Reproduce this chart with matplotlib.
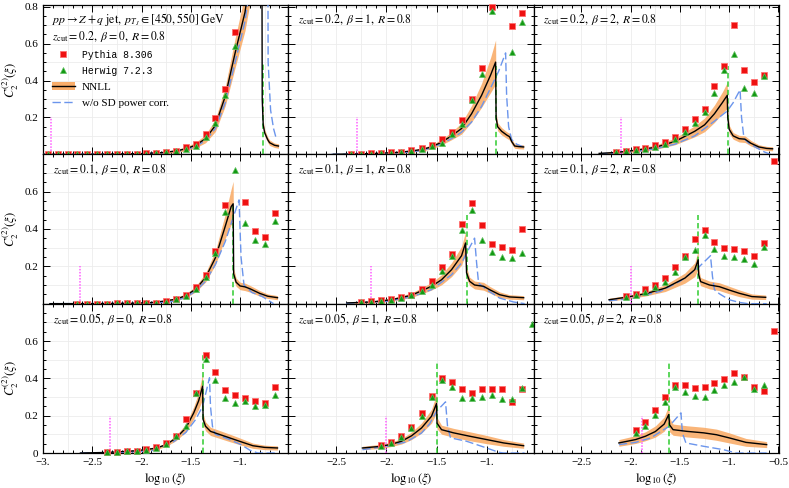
import numpy as np
import matplotlib
matplotlib.use('Agg')
import matplotlib.pyplot as plt
from matplotlib.lines import Line2D
from matplotlib.patches import Patch

# rows: z_cut, columns: beta
zcut = ['0.2', '0.1', '0.05']
beta = ['0', '1', '2']

# ---- Pythia 8.306 (red squares), one list per panel, row by row ----
pythia_x = [
    [-2.95, -2.85, -2.75, -2.65, -2.55, -2.45, -2.35, -2.25, -2.15, -2.05, -1.95, -1.85, -1.75, -1.65, -1.55, -1.45, -1.35, -1.25, -1.15, -1.05],
    [-2.35, -2.25, -2.15, -2.05, -1.95, -1.85, -1.75, -1.65, -1.55, -1.45, -1.35, -1.25, -1.15, -1.05, -0.95, -0.75, -0.65],
    [-2.15, -2.05, -1.95, -1.85, -1.75, -1.65, -1.55, -1.45, -1.35, -1.25, -1.15, -1.05, -0.95, -0.85, -0.75, -0.65],
    [-2.65, -2.55, -2.45, -2.35, -2.25, -2.15, -2.05, -1.95, -1.85, -1.75, -1.65, -1.55, -1.45, -1.35, -1.25, -1.15, -0.95, -0.85, -0.75, -0.65],
    [-2.25, -2.15, -2.05, -1.95, -1.85, -1.75, -1.65, -1.55, -1.45, -1.35, -1.25, -1.15, -1.05, -0.95, -0.85, -0.75, -0.65],
    [-2.05, -1.95, -1.85, -1.75, -1.65, -1.55, -1.45, -1.35, -1.25, -1.15, -1.05, -0.95, -0.85, -0.75, -0.65, -0.55],
    [-2.35, -2.25, -2.15, -2.05, -1.95, -1.85, -1.75, -1.65, -1.55, -1.45, -1.35, -1.25, -1.15, -1.05, -0.95, -0.85, -0.75, -0.65],
    [-2.05, -1.95, -1.85, -1.75, -1.65, -1.55, -1.45, -1.35, -1.25, -1.15, -1.05, -0.95, -0.85, -0.75, -0.65],
    [-1.95, -1.85, -1.75, -1.65, -1.55, -1.45, -1.35, -1.25, -1.15, -1.05, -0.95, -0.85, -0.75, -0.65, -0.55],
]
pythia_y = [
    [0.0, 0.0, 0.0, 0.0, 0.0, 0.0, 0.0, 0.001, 0.001, 0.003, 0.005, 0.007, 0.011, 0.018, 0.038, 0.058, 0.108, 0.195, 0.355, 0.665],
    [0.002, 0.003, 0.005, 0.008, 0.011, 0.015, 0.023, 0.036, 0.05, 0.081, 0.123, 0.186, 0.3, 0.47, 0.8, 0.694, 0.769],
    [0.013, 0.02, 0.027, 0.036, 0.049, 0.068, 0.095, 0.135, 0.193, 0.247, 0.373, 0.481, 0.703, 0.456, 0.391, 0.43],
    [0.0, 0.0, 0.0, 0.0, 0.001, 0.001, 0.002, 0.004, 0.005, 0.013, 0.027, 0.048, 0.087, 0.155, 0.28, 0.529, 0.543, 0.39, 0.355, 0.483],
    [0.009, 0.012, 0.018, 0.025, 0.034, 0.048, 0.078, 0.119, 0.194, 0.267, 0.426, 0.538, 0.42, 0.321, 0.301, 0.289, 0.398],
    [0.04, 0.051, 0.076, 0.1, 0.137, 0.196, 0.253, 0.346, 0.396, 0.328, 0.298, 0.291, 0.284, 0.257, 0.323, 0.766],
    [0.005, 0.007, 0.011, 0.012, 0.019, 0.03, 0.054, 0.093, 0.183, 0.322, 0.523, 0.435, 0.34, 0.313, 0.292, 0.281, 0.269, 0.355],
    [0.041, 0.057, 0.089, 0.138, 0.215, 0.308, 0.4, 0.382, 0.341, 0.323, 0.341, 0.341, 0.344, 0.274, 0.341],
    [0.125, 0.168, 0.228, 0.3, 0.362, 0.366, 0.346, 0.351, 0.373, 0.398, 0.43, 0.407, 0.355, 0.33, 0.654],
]

# ---- Herwig 7.2.3 (green triangles) ----
herwig_x = [
    [-2.95, -2.85, -2.75, -2.65, -2.55, -2.45, -2.35, -2.25, -2.15, -2.05, -1.95, -1.85, -1.75, -1.65, -1.55, -1.45, -1.35, -1.25, -1.15, -1.05],
    [-2.35, -2.25, -2.15, -2.05, -1.95, -1.85, -1.75, -1.65, -1.55, -1.45, -1.35, -1.25, -1.15, -1.05, -0.95, -0.75, -0.65],
    [-2.15, -2.05, -1.95, -1.85, -1.75, -1.65, -1.55, -1.45, -1.35, -1.25, -1.15, -1.05, -0.95, -0.85, -0.75, -0.65],
    [-2.65, -2.55, -2.45, -2.35, -2.25, -2.15, -2.05, -1.95, -1.85, -1.75, -1.65, -1.55, -1.45, -1.35, -1.25, -1.15, -1.05, -0.95, -0.85, -0.75, -0.65],
    [-2.25, -2.15, -2.05, -1.95, -1.85, -1.75, -1.65, -1.55, -1.45, -1.35, -1.25, -1.15, -1.05, -0.95, -0.85, -0.75, -0.65],
    [-2.05, -1.95, -1.85, -1.75, -1.65, -1.55, -1.45, -1.35, -1.25, -1.15, -1.05, -0.95, -0.85, -0.75, -0.65],
    [-2.35, -2.25, -2.15, -2.05, -1.95, -1.85, -1.75, -1.65, -1.55, -1.45, -1.35, -1.25, -1.15, -1.05, -0.95, -0.85, -0.75, -0.65],
    [-2.05, -1.95, -1.85, -1.75, -1.65, -1.55, -1.45, -1.35, -1.25, -1.15, -1.05, -0.95, -0.85, -0.75, -0.65, -0.55],
    [-1.95, -1.85, -1.75, -1.65, -1.55, -1.45, -1.35, -1.25, -1.15, -1.05, -0.95, -0.85, -0.75, -0.65],
]
herwig_y = [
    [0.0, 0.0, 0.0, 0.0, 0.0, 0.0, 0.0, 0.001, 0.001, 0.003, 0.004, 0.006, 0.01, 0.016, 0.03, 0.047, 0.093, 0.17, 0.32, 0.585],
    [0.001, 0.002, 0.004, 0.006, 0.008, 0.01, 0.018, 0.03, 0.045, 0.063, 0.108, 0.167, 0.294, 0.438, 0.775, 0.553, 0.72],
    [0.01, 0.017, 0.024, 0.031, 0.042, 0.058, 0.085, 0.121, 0.171, 0.232, 0.333, 0.456, 0.546, 0.359, 0.333, 0.427],
    [0.0, 0.0, 0.0, 0.0, 0.001, 0.001, 0.002, 0.003, 0.004, 0.011, 0.023, 0.043, 0.078, 0.143, 0.271, 0.493, 0.718, 0.431, 0.342, 0.317, 0.444],
    [0.007, 0.009, 0.012, 0.02, 0.03, 0.045, 0.066, 0.102, 0.176, 0.257, 0.396, 0.503, 0.339, 0.277, 0.25, 0.244, 0.271],
    [0.037, 0.046, 0.064, 0.091, 0.118, 0.172, 0.249, 0.289, 0.369, 0.294, 0.258, 0.249, 0.239, 0.214, 0.306],
    [0.003, 0.005, 0.009, 0.012, 0.017, 0.028, 0.049, 0.093, 0.143, 0.322, 0.505, 0.39, 0.292, 0.269, 0.281, 0.251, 0.256, 0.313],
    [0.037, 0.054, 0.086, 0.134, 0.2, 0.301, 0.391, 0.355, 0.296, 0.296, 0.301, 0.31, 0.29, 0.287, 0.35, 0.69],
    [0.107, 0.147, 0.201, 0.275, 0.355, 0.326, 0.305, 0.301, 0.337, 0.362, 0.382, 0.409, 0.344, 0.362],
]

# ---- NNLL central curve and band half-width ----
nnll_x = [
    [-3.0, -2.6, -2.2, -2.0, -1.8, -1.65, -1.55, -1.45, -1.35, -1.25, -1.15, -1.05, -0.95, -0.9, -0.85, -0.78, -0.775, -0.765, -0.75, -0.72, -0.7, -0.65, -0.61],
    [-2.53, -2.3, -2.1, -1.9, -1.75, -1.65, -1.55, -1.45, -1.35, -1.25, -1.15, -1.05, -0.96, -0.91, -0.905, -0.89, -0.85, -0.8, -0.77, -0.75, -0.72, -0.68, -0.63],
    [-2.32, -2.15, -1.95, -1.75, -1.55, -1.35, -1.25, -1.15, -1.07, -1.02, -1.015, -1.0, -0.96, -0.9, -0.84, -0.78, -0.7, -0.62, -0.56],
    [-2.93, -2.4, -2.1, -1.9, -1.78, -1.65, -1.55, -1.45, -1.35, -1.25, -1.15, -1.09, -1.07, -1.065, -1.04, -1.0, -0.95, -0.9, -0.8, -0.72, -0.62],
    [-2.39, -2.15, -1.95, -1.75, -1.55, -1.45, -1.35, -1.25, -1.21, -1.2, -1.17, -1.12, -1.03, -0.97, -0.87, -0.77, -0.63],
    [-2.22, -2.05, -1.85, -1.65, -1.45, -1.35, -1.315, -1.31, -1.29, -1.2, -1.1, -1.0, -0.9, -0.77, -0.63],
    [-2.62, -2.35, -2.05, -1.85, -1.75, -1.65, -1.55, -1.47, -1.42, -1.38, -1.375, -1.35, -1.3, -1.2, -1.1, -1.0, -0.87, -0.75, -0.62],
    [-2.24, -2.05, -1.95, -1.85, -1.75, -1.65, -1.55, -1.5, -1.495, -1.45, -1.33, -1.17, -1.0, -0.83, -0.63],
    [-2.12, -1.95, -1.85, -1.75, -1.66, -1.614, -1.605, -1.57, -1.43, -1.26, -1.13, -1.0, -0.83, -0.62],
]
nnll_y = [
    [0.0, 0.0, 0.002, 0.004, 0.009, 0.018, 0.03, 0.05, 0.085, 0.157, 0.315, 0.55, 0.77, 0.95, 1.2, 1.6, 0.3, 0.16, 0.117, 0.08, 0.063, 0.049, 0.045],
    [0.0, 0.002, 0.005, 0.01, 0.018, 0.026, 0.04, 0.066, 0.1, 0.14, 0.22, 0.32, 0.43, 0.5, 0.2, 0.15, 0.125, 0.105, 0.095, 0.07, 0.045, 0.042, 0.04],
    [0.005, 0.01, 0.022, 0.038, 0.07, 0.125, 0.16, 0.22, 0.28, 0.32, 0.2, 0.135, 0.1, 0.085, 0.082, 0.06, 0.04, 0.032, 0.03],
    [0.0, 0.0005, 0.002, 0.006, 0.013, 0.024, 0.043, 0.078, 0.14, 0.246, 0.415, 0.52, 0.535, 0.16, 0.115, 0.095, 0.09, 0.08, 0.055, 0.04, 0.032],
    [0.004, 0.009, 0.021, 0.045, 0.093, 0.128, 0.182, 0.257, 0.325, 0.165, 0.12, 0.1, 0.093, 0.075, 0.048, 0.036, 0.032],
    [0.021, 0.034, 0.053, 0.083, 0.137, 0.182, 0.235, 0.155, 0.118, 0.1, 0.091, 0.073, 0.056, 0.038, 0.034],
    [0.0, 0.003, 0.012, 0.026, 0.045, 0.08, 0.134, 0.215, 0.28, 0.358, 0.18, 0.143, 0.116, 0.098, 0.08, 0.062, 0.039, 0.03, 0.027],
    [0.027, 0.036, 0.047, 0.063, 0.092, 0.134, 0.197, 0.265, 0.16, 0.125, 0.108, 0.09, 0.072, 0.054, 0.039],
    [0.054, 0.072, 0.09, 0.115, 0.155, 0.206, 0.15, 0.125, 0.116, 0.108, 0.098, 0.081, 0.057, 0.045],
]
nnll_err = [
    [0.002, 0.002, 0.002, 0.003, 0.005, 0.008, 0.011, 0.015, 0.022, 0.033, 0.052, 0.08, 0.1, 0.13, 0.15, 0.18, 0.045, 0.022, 0.018, 0.015, 0.015, 0.012, 0.012],
    [0.002, 0.002, 0.003, 0.005, 0.006, 0.008, 0.011, 0.015, 0.021, 0.03, 0.045, 0.065, 0.095, 0.12, 0.03, 0.022, 0.02, 0.018, 0.018, 0.015, 0.012, 0.012, 0.011],
    [0.003, 0.005, 0.008, 0.012, 0.018, 0.03, 0.037, 0.047, 0.058, 0.07, 0.037, 0.022, 0.018, 0.018, 0.018, 0.015, 0.012, 0.011, 0.011],
    [0.002, 0.002, 0.002, 0.003, 0.005, 0.008, 0.011, 0.015, 0.024, 0.037, 0.065, 0.095, 0.12, 0.03, 0.022, 0.02, 0.02, 0.018, 0.015, 0.012, 0.011],
    [0.003, 0.005, 0.008, 0.012, 0.02, 0.027, 0.037, 0.05, 0.06, 0.03, 0.022, 0.021, 0.021, 0.018, 0.015, 0.012, 0.011],
    [0.008, 0.009, 0.012, 0.018, 0.027, 0.037, 0.05, 0.03, 0.022, 0.021, 0.021, 0.02, 0.018, 0.014, 0.012],
    [0.002, 0.003, 0.005, 0.008, 0.009, 0.014, 0.021, 0.033, 0.045, 0.07, 0.03, 0.024, 0.022, 0.021, 0.02, 0.018, 0.014, 0.012, 0.011],
    [0.009, 0.011, 0.012, 0.015, 0.02, 0.027, 0.037, 0.05, 0.03, 0.024, 0.024, 0.024, 0.022, 0.018, 0.014],
    [0.018, 0.021, 0.024, 0.03, 0.038, 0.05, 0.037, 0.03, 0.03, 0.03, 0.03, 0.027, 0.021, 0.016],
]

# ---- w/o SD power corrections (blue dashed) ----
nosd_x = [
    [-3.0, -2.2, -2.0, -1.8, -1.65, -1.55, -1.45, -1.35, -1.25, -1.15, -1.05, -0.95, -0.85, -0.78, -0.72, -0.715, -0.69, -0.66, -0.64, -0.62],
    [-2.55, -2.2, -2.0, -1.8, -1.65, -1.55, -1.45, -1.35, -1.25, -1.15, -1.05, -0.96, -0.88, -0.81, -0.8, -0.78, -0.75, -0.7, -0.63],
    [-2.32, -2.15, -1.95, -1.75, -1.55, -1.35, -1.15, -1.02, -0.96, -0.89, -0.875, -0.85, -0.8, -0.72, -0.64, -0.58],
    [-2.93, -2.2, -1.9, -1.7, -1.55, -1.45, -1.35, -1.25, -1.15, -1.09, -1.01, -1.0, -0.99, -0.96, -0.88, -0.78, -0.72, -0.66],
    [-2.4, -2.0, -1.75, -1.55, -1.35, -1.25, -1.2, -1.12, -1.1, -1.08, -1.0, -0.87, -0.73, -0.62],
    [-2.22, -2.0, -1.7, -1.5, -1.32, -1.19, -1.17, -1.15, -1.1, -1.0, -0.9, -0.81, -0.62],
    [-2.62, -2.2, -1.9, -1.7, -1.55, -1.45, -1.38, -1.31, -1.3, -1.28, -1.25, -1.12, -0.99, -0.9, -0.82, -0.62],
    [-2.24, -2.0, -1.8, -1.65, -1.57, -1.5, -1.41, -1.39, -1.36, -1.2, -1.0, -0.88, -0.83, -0.62],
    [-2.12, -1.95, -1.8, -1.61, -1.49, -1.475, -1.44, -1.26, -1.06, -0.93, -0.62],
]
nosd_y = [
    [0.0, 0.001, 0.003, 0.007, 0.014, 0.025, 0.042, 0.075, 0.14, 0.28, 0.5, 0.72, 1.1, 1.4, 1.7, 0.5, 0.24, 0.14, 0.1, 0.08],
    [0.0, 0.002, 0.005, 0.011, 0.02, 0.035, 0.057, 0.085, 0.12, 0.175, 0.26, 0.36, 0.45, 0.55, 0.32, 0.15, 0.08, 0.055, 0.04],
    [0.003, 0.006, 0.015, 0.03, 0.055, 0.1, 0.18, 0.235, 0.28, 0.35, 0.2, 0.085, 0.06, 0.035, 0.012, 0.0],
    [0.0, 0.001, 0.004, 0.01, 0.033, 0.068, 0.12, 0.21, 0.333, 0.43, 0.556, 0.4, 0.25, 0.1, 0.06, 0.04, 0.02, 0.0],
    [0.002, 0.012, 0.036, 0.075, 0.155, 0.218, 0.271, 0.351, 0.22, 0.11, 0.075, 0.03, 0.009, 0.0],
    [0.016, 0.026, 0.066, 0.12, 0.19, 0.257, 0.146, 0.075, 0.053, 0.021, 0.007, 0.0, 0.0],
    [0.0, 0.003, 0.012, 0.05, 0.11, 0.18, 0.25, 0.403, 0.25, 0.143, 0.1, 0.075, 0.045, 0.015, 0.0, 0.0],
    [0.018, 0.035, 0.06, 0.107, 0.155, 0.224, 0.274, 0.143, 0.081, 0.063, 0.027, 0.004, 0.0, 0.0],
    [0.045, 0.057, 0.08, 0.143, 0.215, 0.107, 0.054, 0.036, 0.018, 0.0, 0.0],
]

# green dashed marker (peak position) and magenta dotted marker
peak_x = [-0.77, -0.91, -1.015, -1.068, -1.2, -1.312, -1.375, -1.5, -1.612]
peak_h = [0.5, 0.48, 0.48, 0.53, 0.476, 0.476, 0.528, 0.484, 0.484]
mag_x = [-2.92, -2.29, -2.096, -2.62, -2.15, -1.995, -2.32, -2.0, -1.89]
mag_h = 0.2

xlims = [(-3.0, -0.51), (-2.98, -0.53), (-2.985, -0.495)]
ylims = [(0, 0.81), (0, 0.80), (0, 0.80)]
ylabels_shown = [[0.2, 0.4, 0.6, 0.8], [0.2, 0.4, 0.6], [0.0, 0.2, 0.4, 0.6]]

RED = '#ee1111'
GREEN = '#139913'
ORANGE = '#f9ad6a'
BLUE = '#6b95ec'
VGREEN = '#2fcc2f'
MAGENTA = '#ff5cff'

plt.rcParams['font.family'] = 'serif'
plt.rcParams['font.serif'] = ['Liberation Serif', 'DejaVu Serif']
plt.rcParams['mathtext.fontset'] = 'stix'

fig, axes = plt.subplots(3, 3, figsize=(7.89, 4.88), dpi=100)
fig.subplots_adjust(left=0.0545, right=0.9873, bottom=0.0717, top=0.9898,
                    wspace=0, hspace=0)


def xfmt(v):
    if abs(v - round(v)) < 1e-6:
        return '\u2212%d.' % abs(round(v))
    return '\u2212%.1f' % abs(v)


for r in range(3):
    for c in range(3):
        ax = axes[r, c]
        i = 3 * r + c
        ax.set_xlim(*xlims[c])
        ax.set_ylim(*ylims[r])

        # light grid
        for g in np.arange(-3.0, -0.4, 0.25):
            ax.axvline(g, color='#ececec', lw=0.6, zorder=0)
        for g in np.arange(0.1, 0.85, 0.1):
            ax.axhline(g, color='#ececec', lw=0.6, zorder=0)

        x = np.array(nnll_x[i])
        y = np.array(nnll_y[i])
        e = np.array(nnll_err[i])
        ax.fill_between(x, y - e, y + e, color=ORANGE, lw=0, alpha=0.9, zorder=2)
        ax.plot(nosd_x[i], nosd_y[i], color=BLUE, lw=1.0, dashes=(6, 2.5), zorder=3)
        ax.plot(x, y, color='black', lw=1.0, zorder=4)

        ax.plot([peak_x[i], peak_x[i]], [0, peak_h[i]], color=VGREEN, lw=1.1,
                dashes=(3.5, 2), zorder=3.5)
        ax.plot([mag_x[i], mag_x[i]], [0, mag_h], color=MAGENTA, lw=1.1,
                dashes=(1, 1), zorder=3.5)

        ax.plot(pythia_x[i], pythia_y[i], ls='none', marker='s', ms=4.2,
                color=RED, mec='#ff7070', mew=0.6, zorder=6, clip_on=False)
        ax.plot(herwig_x[i], herwig_y[i], ls='none', marker='^', ms=4.6,
                color=GREEN, mec='#5fc05f', mew=0.5, zorder=7, clip_on=False)

        # ticks
        ax.xaxis.set_major_locator(plt.MultipleLocator(0.5))
        ax.xaxis.set_minor_locator(plt.MultipleLocator(0.1))
        ax.yaxis.set_major_locator(plt.MultipleLocator(0.2))
        ax.yaxis.set_minor_locator(plt.MultipleLocator(0.05))
        ax.tick_params(which='both', direction='in', top=True, right=True,
                       width=0.7, labelsize=8)
        ax.tick_params(axis='x', pad=3.5)
        ax.tick_params(axis='y', pad=3.5)
        ax.tick_params(which='major', length=5)
        ax.tick_params(which='minor', length=2.5)
        for sp in ax.spines.values():
            sp.set_linewidth(0.9)

        if r == 2:
            ax.xaxis.set_major_formatter(plt.FuncFormatter(lambda v, p: xfmt(v)))
            ax.set_xlabel(r'$\log_{10}(\xi)$', fontsize=9, labelpad=3)
        else:
            ax.set_xticklabels([])
        if c == 0:
            shown = ylabels_shown[r]
            ax.yaxis.set_major_formatter(plt.FuncFormatter(
                lambda v, p, s=shown: ('0' if abs(v) < 1e-9 else '%.1f' % v)
                if any(abs(v - t) < 1e-6 for t in s) else ''))
            ax.set_ylabel(r'$C_2^{(2)}(\xi)$', fontsize=9, labelpad=2)
        else:
            ax.set_yticklabels([])

        label = r'$z_{\rm cut} = %s,\ \beta = %s,\ R = 0.8$' % (zcut[r], beta[c])
        if i == 0:
            ax.text(0.037, 0.9, r'$pp \to Z + q\ \mathrm{jet},\ p_{T_J} \in [450, 550]\ \mathrm{GeV}$',
                    transform=ax.transAxes, fontsize=8.5, va='center', ha='left')
            ax.text(0.037, 0.787, label, transform=ax.transAxes, fontsize=8.5,
                    va='center', ha='left')
        else:
            ax.text(0.04, 0.9, label, transform=ax.transAxes, fontsize=8.5,
                    va='center', ha='left')

# legend in the first panel
ax = axes[0, 0]
handles = [
    Line2D([], [], ls='none', marker='s', ms=4.2, color=RED, mec='#ff7070', mew=0.6),
    Line2D([], [], ls='none', marker='^', ms=4.6, color=GREEN, mec='#5fc05f', mew=0.5),
    (Patch(facecolor=ORANGE, edgecolor='none'), Line2D([], [], color='black', lw=1.0)),
    Line2D([], [], color=BLUE, lw=1.0, dashes=(6, 2.5)),
]
labels = ['Pythia 8.306', 'Herwig 7.2.3', 'NNLL', 'w/o SD power corr.']
leg = ax.legend(handles, labels, loc='upper left', bbox_to_anchor=(0.035, 0.7),
                frameon=False, fontsize=8, handlelength=2.1, handletextpad=0.6,
                labelspacing=0.55, borderpad=0, borderaxespad=0)
for t in leg.get_texts()[:2]:
    t.set_family('Liberation Mono')
    t.set_fontsize(7)

fig.savefig('out.png', dpi=100)
